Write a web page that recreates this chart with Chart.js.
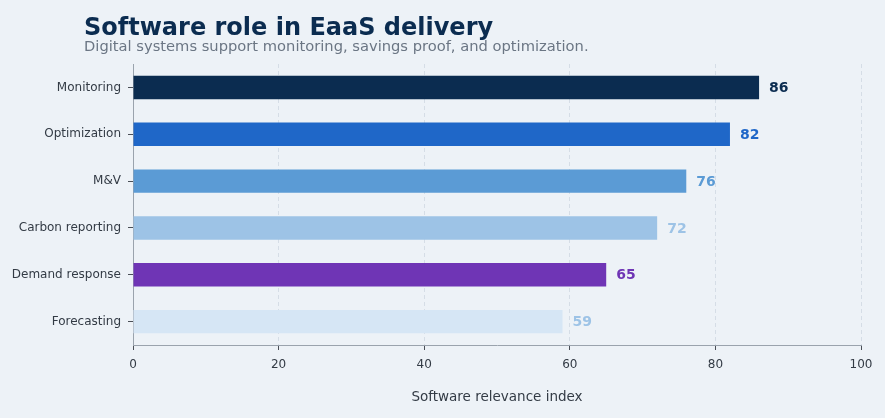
<!DOCTYPE html>
<html>
<head>
<meta charset="utf-8">
<script src="https://cdn.jsdelivr.net/npm/chart.js@4/dist/chart.umd.min.js"></script>
<style>
html,body{margin:0;padding:0;background:#edf2f7;}
#wrap{width:885px;height:418px;position:relative;}
</style>
</head>
<body>
<div id="wrap"><canvas id="c" width="885" height="418"></canvas></div>
<script>
const categories = ["Monitoring","Optimization","M&V","Carbon reporting","Demand response","Forecasting"];
const values = [86,82,76,72,65,59];
const barColors = ["#0b2c50","#1f67c8","#5b9bd5","#9dc3e6","#6f35b5","#d6e6f5"];
const labelColors = ["#0b2c50","#1f67c8","#5b9bd5","#9dc3e6","#6f35b5","#9dc3e6"];
const xTicks = [0,20,40,60,80,100];
const titleText = "Software role in EaaS delivery";
const subtitleText = "Digital systems support monitoring, savings proof, and optimization.";
const xTitle = "Software relevance index";

const FONT = "'DejaVu Sans', sans-serif";

const headerPlugin = {
  id:'header',
  beforeDraw(chart){
    const ctx = chart.ctx;
    ctx.save();
    ctx.fillStyle = '#edf2f7';
    ctx.fillRect(0,0,chart.width,chart.height);
    ctx.restore();
  },
  afterDraw(chart){
    const ctx = chart.ctx;
    ctx.save();
    ctx.textAlign='left';
    ctx.textBaseline='alphabetic';
    ctx.fillStyle='#0b2c50';
    ctx.font="bold 24px "+FONT;
    ctx.fillText(titleText,84,35);
    ctx.fillStyle='#6b7684';
    ctx.font="14.7px "+FONT;
    ctx.fillText(subtitleText,84,51);
    ctx.restore();
  }
};

const valueLabels = {
  id:'valueLabels',
  afterDatasetsDraw(chart){
    const ctx = chart.ctx;
    const meta = chart.getDatasetMeta(0);
    ctx.save();
    ctx.font = "bold 14px "+FONT;
    ctx.textAlign='left';
    ctx.textBaseline='middle';
    meta.data.forEach((bar,i)=>{
      ctx.fillStyle = labelColors[i];
      ctx.fillText(String(values[i]), bar.x+10, bar.y+1);
    });
    ctx.restore();
  }
};

new Chart(document.getElementById('c'),{
  type:'bar',
  data:{
    labels:categories,
    datasets:[{
      data:values,
      backgroundColor:barColors,
      borderColor:barColors,
      borderWidth:0,
      barPercentage:0.5,
      categoryPercentage:1.0
    }]
  },
  options:{
    indexAxis:'y',
    responsive:false,
    animation:false,
    devicePixelRatio:1,
    layout:{padding:{top:64,right:24,bottom:12,left:0}},
    plugins:{legend:{display:false},tooltip:{enabled:false}},
    scales:{
      x:{
        min:0,max:100,
        afterBuildTicks(scale){ scale.ticks = xTicks.map(v=>({value:v})); },
        afterFit(scale){ scale.height = 61; },
        border:{display:true,color:'#9aa3ad',width:1,dash:[4,3]},
        grid:{color:'#d5dde6',lineWidth:1,drawTicks:true,tickLength:5,tickColor:'#4a4f57',tickBorderDash:[1,0],tickWidth:1},
        ticks:{color:'#333b45',font:{family:FONT,size:12},padding:8},
        title:{display:true,text:xTitle,color:'#333b45',font:{family:FONT,size:13.5},padding:{top:14,bottom:0}}
      },
      y:{
        afterFit(scale){ scale.width = 133; },
        border:{display:true,color:'#9aa3ad',width:1},
        grid:{offset:false,drawOnChartArea:false,drawTicks:true,tickLength:5,tickColor:'#4a4f57'},
        ticks:{color:'#333b45',font:{family:FONT,size:12},padding:7}
      }
    }
  },
  plugins:[headerPlugin,valueLabels]
});
</script>
</body>
</html>
